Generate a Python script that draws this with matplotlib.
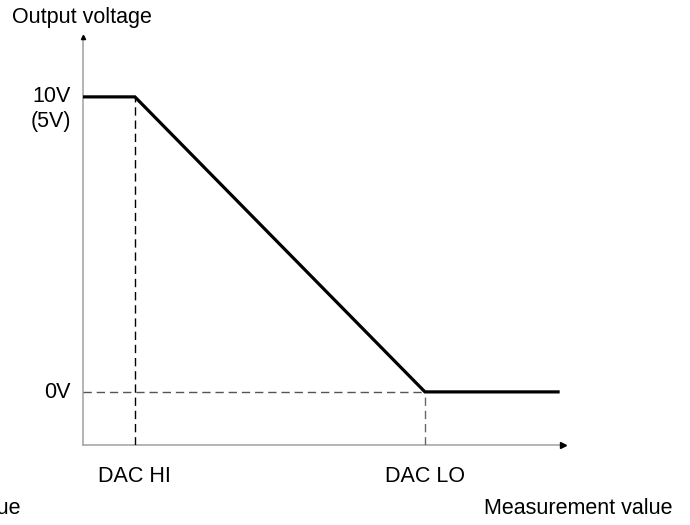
import matplotlib
matplotlib.use("Agg")
import matplotlib.pyplot as plt
from matplotlib.transforms import blended_transform_factory

plt.rcParams['font.family'] = ['Liberation Sans', 'DejaVu Sans']

# Transfer characteristic: measurement value (DAC HI = 0, DAC LO = 1) -> output voltage
meas = [-0.179, 0.0, 1.0, 1.459]
volts = [10.0, 10.0, 0.0, 0.0]
dac_hi, dac_lo = 0.0, 1.0
v_top, v_zero = 10.0, 0.0
x_labels = ["DAC HI", "DAC LO"]

W, H = 690, 525
fig = plt.figure(figsize=(W / 100, H / 100), dpi=100)
ax_l, ax_r, ax_b, ax_t = 83, 563, 445, 37
ax = fig.add_axes([ax_l / W, 1 - ax_b / H, (ax_r - ax_l) / W, (ax_b - ax_t) / H])
x0, x1 = -0.179, 1.476
y0, y1 = -1.8, 12.03
ax.set_xlim(x0, x1)
ax.set_ylim(y0, y1)
for s in ax.spines.values():
    s.set_visible(False)
ax.set_xticks([])
ax.set_yticks([])
ax.patch.set_alpha(0)

# axes lines with small dark arrowheads
axis_col = "#a8a8a8"
ax.plot([x0, x1], [y0, y0], color=axis_col, lw=1.2, clip_on=False)
ax.plot([x0, x0], [y0, y1], color=axis_col, lw=1.2, clip_on=False)
ax.plot([x1], [y0], marker=">", color="black", ms=4, clip_on=False, zorder=5)
ax.plot([x0], [y1], marker="^", color="black", ms=3, clip_on=False, zorder=5)

# reference dashes
dash = (0, (6, 3.5))
ax.plot([dac_hi, dac_hi], [y0, v_top], color="black", lw=1.0, ls=dash)
ax.plot([dac_lo, dac_lo], [y0, v_zero], color="#666666", lw=1.0, ls=dash)
ax.plot([x0, dac_lo], [v_zero, v_zero], color="#555555", lw=1.0, ls=dash)

# characteristic
ax.plot(meas, volts, color="black", lw=2.3, solid_joinstyle="miter", zorder=4)

fs = 15.5
fig.text(12 / W, 1 - 18 / H, "Output voltage", fontsize=fs, ha="left", va="center")
fig.text(71 / W, 1 - 97 / H, "10V", fontsize=fs, ha="right", va="center")
fig.text(71 / W, 1 - 121 / H, "(5V)", fontsize=fs, ha="right", va="center")
fig.text(71 / W, 1 - 392 / H, "0V", fontsize=fs, ha="right", va="center")
trans = blended_transform_factory(ax.transData, fig.transFigure)
for xv, lab in zip([dac_hi, dac_lo], x_labels):
    ax.text(xv, 1 - 476 / H, lab, fontsize=fs, ha="center", va="center", transform=trans)
fig.text(673 / W, 1 - 509 / H, "Measurement value", fontsize=fs, ha="right", va="center")
fig.text(20 / W, 1 - 509 / H, "Measurement value", fontsize=fs, ha="right", va="center")

fig.savefig("out.png", dpi=100)
